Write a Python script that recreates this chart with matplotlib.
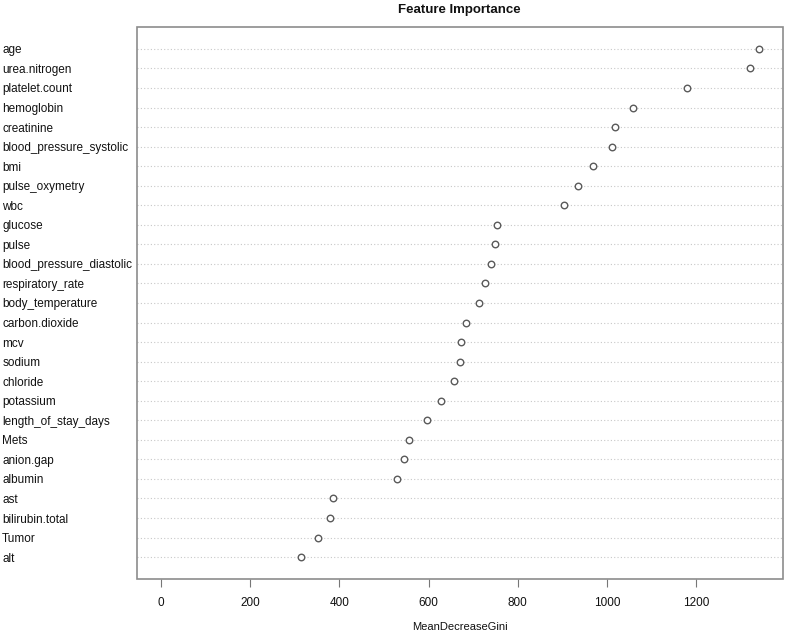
import matplotlib
matplotlib.use('Agg')
import matplotlib.pyplot as plt
from matplotlib.patches import Rectangle

plt.rcParams['font.family'] = ['Liberation Sans', 'DejaVu Sans']

# features from top to bottom, MeanDecreaseGini
features = ['age', 'urea.nitrogen', 'platelet.count', 'hemoglobin', 'creatinine',
            'blood_pressure_systolic', 'bmi', 'pulse_oxymetry', 'wbc', 'glucose',
            'pulse', 'blood_pressure_diastolic', 'respiratory_rate', 'body_temperature',
            'carbon.dioxide', 'mcv', 'sodium', 'chloride', 'potassium',
            'length_of_stay_days', 'Mets', 'anion.gap', 'albumin', 'ast',
            'bilirubin.total', 'Tumor', 'alt']
gini = [1341, 1321, 1179, 1058, 1017, 1012, 968, 936, 904, 753,
        749, 739, 727, 713, 684, 673, 671, 657, 629,
        596, 557, 544, 530, 385, 380, 353, 315]
xticks = [0, 200, 400, 600, 800, 1000, 1200]

n = len(features)
ypos = list(range(n, 0, -1))

fig = plt.figure(figsize=(7.87, 6.34), dpi=100)
ax = fig.add_axes([137/787, 1 - 579/634, 646/787, 552/634])

m = max(gini)
ax.set_xlim(-0.04 * m, 1.04 * m)
ax.set_ylim(1 - 0.04 * (n + 1), n + 0.04 * (n + 1))

for y in ypos:
    ax.axhline(y, color='#c8c8c8', lw=0.8, ls=(0, (1, 2)), zorder=1)
ax.scatter(gini, ypos, s=22, facecolors='white', edgecolors='#5a5a5a', linewidths=1.0, zorder=3)

for side in ['left', 'top', 'right']:
    ax.spines[side].set_visible(False)
ax.add_patch(Rectangle((0, 0), 1, 1, transform=ax.transAxes, fill=False,
                       edgecolor='#8c8c8c', lw=1.2, clip_on=False, zorder=4))
ax.spines['bottom'].set_visible(False)

ax.set_xticks(xticks)
ax.set_xticklabels([str(t) for t in xticks])
ax.tick_params(axis='x', length=6, color='#777777', labelsize=8.5, pad=7, labelcolor='#111111')

ax.set_yticks(ypos)
ax.set_yticklabels(features, ha='left', fontsize=8.5, color='#111111')
ax.tick_params(axis='y', length=0, pad=97)

ax.set_xlabel('MeanDecreaseGini', fontsize=8, labelpad=9, color='#111111')
fig.text(459/787, 1 - 10/634, 'Feature Importance', ha='center', va='center',
         fontsize=9.5, fontweight='bold', color='#111111')

fig.savefig('out.png', dpi=100)
